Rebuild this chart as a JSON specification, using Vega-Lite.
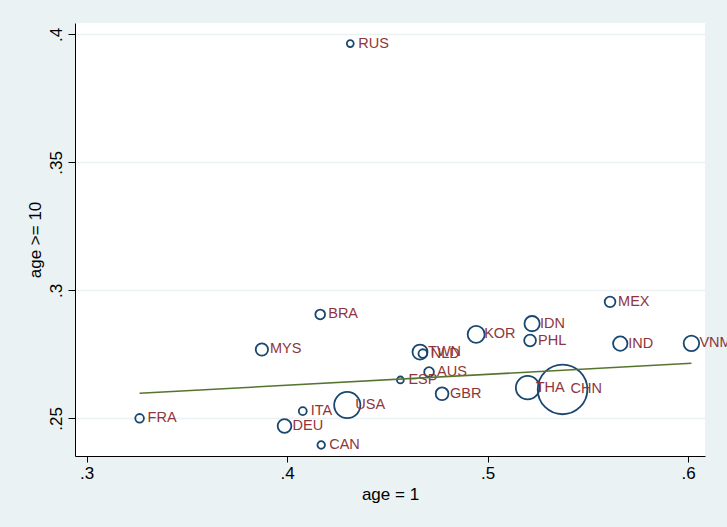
{
  "$schema": "https://vega.github.io/schema/vega-lite/v6.json",
  "width": 630,
  "height": 433,
  "autosize": {"type": "none"},
  "padding": {"left": 75, "top": 23, "right": 22, "bottom": 71},
  "background": "#EAF2F3",
  "view": {"fill": "#FFFFFF", "stroke": null},
  "config": {
    "font": "Liberation Sans",
    "axis": {
      "domainColor": "#000000",
      "domainWidth": 1,
      "tickColor": "#000000",
      "tickWidth": 1,
      "labelColor": "#000000",
      "titleColor": "#000000",
      "labelFont": "Liberation Sans",
      "titleFont": "Liberation Sans",
      "labelFontSize": 17,
      "titleFontSize": 17,
      "titleFontWeight": "normal"
    }
  },
  "datasets": {
    "countries": [
      {"iso": "RUS", "age1": 0.4315, "age10": 0.3964, "w": 15},
      {"iso": "BRA", "age1": 0.4165, "age10": 0.2906, "w": 30},
      {"iso": "MYS", "age1": 0.3874, "age10": 0.2769, "w": 48},
      {"iso": "FRA", "age1": 0.3264, "age10": 0.2500, "w": 24},
      {"iso": "ITA", "age1": 0.4078, "age10": 0.2528, "w": 20},
      {"iso": "DEU", "age1": 0.3987, "age10": 0.2470, "w": 60},
      {"iso": "CAN", "age1": 0.4170, "age10": 0.2396, "w": 18},
      {"iso": "USA", "age1": 0.4300, "age10": 0.2552, "w": 219},
      {"iso": "ESP", "age1": 0.4565, "age10": 0.2650, "w": 15},
      {"iso": "AUS", "age1": 0.4708, "age10": 0.2681, "w": 30},
      {"iso": "TWN", "age1": 0.4663, "age10": 0.2759, "w": 72},
      {"iso": "NLD", "age1": 0.4677, "age10": 0.2753, "w": 24},
      {"iso": "GBR", "age1": 0.4773, "age10": 0.2596, "w": 52},
      {"iso": "KOR", "age1": 0.4943, "age10": 0.2828, "w": 92},
      {"iso": "IDN", "age1": 0.5222, "age10": 0.2870, "w": 74},
      {"iso": "PHL", "age1": 0.5212, "age10": 0.2804, "w": 44},
      {"iso": "THA", "age1": 0.5200, "age10": 0.2620, "w": 177},
      {"iso": "CHN", "age1": 0.5374, "age10": 0.2613, "w": 784},
      {"iso": "MEX", "age1": 0.5611, "age10": 0.2955, "w": 36},
      {"iso": "IND", "age1": 0.5662, "age10": 0.2792, "w": 66},
      {"iso": "VNM", "age1": 0.6017, "age10": 0.2793, "w": 77}
    ],
    "fit": [
      {"age1": 0.3264, "fitted": 0.2598},
      {"age1": 0.6017, "fitted": 0.2715}
    ]
  },
  "layer": [
    {
      "data": {"name": "countries"},
      "mark": {"type": "point", "shape": "circle", "filled": false, "stroke": "#1A476F", "strokeWidth": 1.8, "opacity": 1, "clip": true},
      "encoding": {
        "x": {
          "field": "age1", "type": "quantitative", "title": "age = 1",
          "scale": {"domain": [0.29417, 0.60847], "nice": false, "zero": false},
          "axis": {
            "values": [0.3, 0.4, 0.5, 0.6],
            "labelExpr": "substring(format(datum.value, '~g'), 1)",
            "grid": false, "tickSize": 6, "labelPadding": 3, "titlePadding": 5
          }
        },
        "y": {
          "field": "age10", "type": "quantitative", "title": "age >= 10",
          "scale": {"domain": [0.23529, 0.40445], "nice": false, "zero": false},
          "axis": {
            "values": [0.25, 0.3, 0.35, 0.4],
            "labelExpr": "substring(format(datum.value, '~g'), 1)",
            "grid": true, "gridColor": "#EAF2F3", "gridWidth": 1.5,
            "tickSize": 7, "labelAngle": -90, "labelAlign": "center", "labelBaseline": "bottom",
            "labelPadding": 3, "titlePadding": 3
          }
        },
        "size": {
          "field": "w", "type": "quantitative", "legend": null,
          "scale": {"type": "linear", "domain": [0, 784], "range": [0, 2463], "zero": true}
        }
      }
    },
    {
      "data": {"name": "countries"},
      "mark": {"type": "text", "align": "left", "baseline": "middle", "dx": 8, "fontSize": 14.5, "font": "Liberation Sans", "color": "#90353B"},
      "encoding": {
        "x": {"field": "age1", "type": "quantitative"},
        "y": {"field": "age10", "type": "quantitative"},
        "text": {"field": "iso"}
      }
    },
    {
      "data": {"name": "fit"},
      "mark": {"type": "line", "color": "#55752F", "strokeWidth": 1.6},
      "encoding": {
        "x": {"field": "age1", "type": "quantitative"},
        "y": {"field": "fitted", "type": "quantitative"}
      }
    }
  ]
}
